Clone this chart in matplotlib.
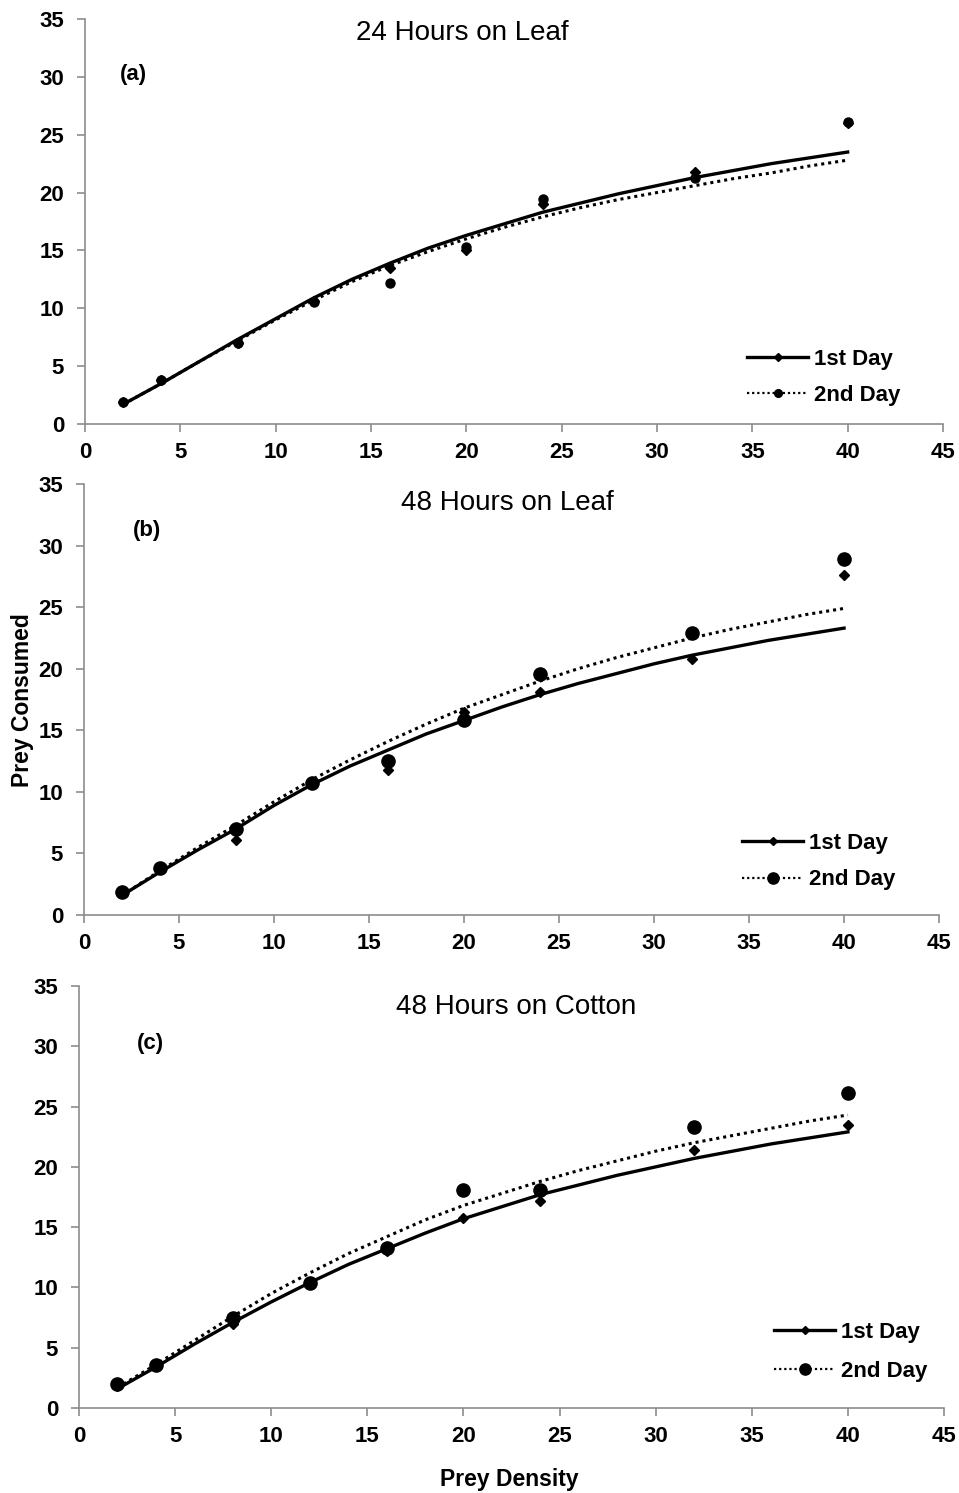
import matplotlib
matplotlib.use("Agg")
import matplotlib.pyplot as plt

plt.rcParams['font.family'] = ['Liberation Sans', 'DejaVu Sans']

# prey densities offered
density = [2, 4, 8, 12, 16, 20, 24, 32, 40]

# observed prey consumed
a_day1 = [1.9, 3.8, 7.0, 10.6, 13.5, 15.0, 19.0, 21.8, 26.0]
a_day2 = [1.9, 3.8, 7.0, 10.5, 12.2, 15.3, 19.4, 21.3, 26.1]
b_day1 = [1.9, 3.8, 6.1, 10.7, 11.8, 16.5, 18.1, 20.8, 27.6]
b_day2 = [1.9, 3.8, 7.0, 10.7, 12.5, 15.8, 19.6, 22.9, 28.9]
c_day1 = [1.8, 3.5, 7.0, 10.4, 13.0, 15.8, 17.2, 21.4, 23.5]
c_day2 = [2.0, 3.6, 7.5, 10.4, 13.3, 18.1, 18.1, 23.3, 26.1]

# fitted curves
fit_x = [2, 4, 6, 8, 10, 12, 14, 16, 18, 20, 22, 24, 26, 28, 30, 32, 34, 36, 38, 40]
a_fit1 = [1.7, 3.5, 5.4, 7.3, 9.1, 10.9, 12.5, 13.9, 15.2, 16.3, 17.3, 18.3, 19.1, 19.9, 20.6, 21.3, 21.9, 22.5, 23.0, 23.5]
a_fit2 = [1.7, 3.5, 5.4, 7.2, 9.0, 10.7, 12.3, 13.7, 14.9, 16.0, 17.0, 17.9, 18.7, 19.4, 20.0, 20.6, 21.2, 21.7, 22.3, 22.8]
b_fit1 = [1.6, 3.5, 5.3, 7.0, 8.9, 10.6, 12.1, 13.4, 14.7, 15.8, 16.9, 17.9, 18.8, 19.6, 20.4, 21.1, 21.7, 22.3, 22.8, 23.3]
b_fit2 = [1.6, 3.6, 5.5, 7.3, 9.2, 11.0, 12.6, 14.1, 15.5, 16.8, 17.9, 19.0, 20.0, 20.9, 21.7, 22.5, 23.2, 23.8, 24.4, 24.9]
c_fit1 = [1.6, 3.4, 5.3, 7.1, 8.8, 10.4, 11.9, 13.2, 14.5, 15.7, 16.7, 17.7, 18.5, 19.3, 20.0, 20.7, 21.3, 21.9, 22.4, 22.9]
c_fit2 = [1.7, 3.6, 5.6, 7.6, 9.5, 11.2, 12.8, 14.2, 15.6, 16.8, 17.8, 18.8, 19.7, 20.5, 21.3, 22.0, 22.6, 23.2, 23.8, 24.3]

titles = ["24 Hours on Leaf", "48 Hours on Leaf", "48 Hours on Cotton"]
tags = ["(a)", "(b)", "(c)"]

fig = plt.figure(figsize=(9.59, 14.93), dpi=100)

# axes boxes [left, bottom, width, height]
boxes = [[0.0886, 0.7160, 0.8947, 0.2713],
         [0.0876, 0.3871, 0.8916, 0.2887],
         [0.0824, 0.0569, 0.9020, 0.2827]]
title_pos = [(0.44, 0.965), (0.495, 0.956), (0.505, 0.950)]
tag_pos = [(0.056, 0.862), (0.074, 0.893), (0.083, 0.863)]
leg_pos = [(0.759, 0.115), (0.757, 0.124), (0.791, 0.133)]
leg_space = [0.7, 0.7, 0.82]
circle_size = [6.5, 9.5, 9.5]

panels = [(a_day1, a_day2, a_fit1, a_fit2),
          (b_day1, b_day2, b_fit1, b_fit2),
          (c_day1, c_day2, c_fit1, c_fit2)]

for i, (d1, d2, f1, f2) in enumerate(panels):
    ax = fig.add_axes(boxes[i])
    ax.plot(fit_x, f1, color="black", lw=2.4, solid_joinstyle="round")
    ax.plot(fit_x, f2, color="black", lw=2.2, linestyle=(0, (1, 1.3)))
    ax.plot(density, d1, "D", color="black", ms=5.5, ls="none")
    ax.plot(density, d2, "o", color="black", ms=circle_size[i], ls="none")

    # legend proxies
    h1, = ax.plot([], [], color="black", lw=2.4, marker="D", ms=4.5)
    h2, = ax.plot([], [], color="black", lw=1.6, linestyle=(0, (1, 1.3)),
                  marker="o", ms=circle_size[i] * 0.85)
    ax.legend([h1, h2], ["1st Day", "2nd Day"], loc="center left",
              bbox_to_anchor=leg_pos[i], frameon=False, borderpad=0,
              handlelength=2.75, handletextpad=0.25, labelspacing=leg_space[i],
              prop={"weight": "bold", "size": 16})

    ax.set_xlim(0, 45)
    ax.set_ylim(0, 35)
    ax.set_xticks(range(0, 46, 5))
    ax.set_yticks(range(0, 36, 5))
    for s in ["top", "right"]:
        ax.spines[s].set_visible(False)
    for s in ["left", "bottom"]:
        ax.spines[s].set_color("#8c8c8c")
        ax.spines[s].set_linewidth(1.2)
    ax.tick_params(colors="#8c8c8c", length=6, width=1.2, labelcolor="black",
                   labelsize=16)
    ax.tick_params(axis="x", pad=7)
    ax.tick_params(axis="y", pad=9)
    for lab in ax.get_xticklabels() + ax.get_yticklabels():
        lab.set_fontweight("bold")

    ax.text(title_pos[i][0], title_pos[i][1], titles[i], transform=ax.transAxes,
            ha="center", va="center", fontsize=20)
    ax.text(tag_pos[i][0], tag_pos[i][1], tags[i], transform=ax.transAxes,
            ha="center", va="center", fontsize=16, fontweight="bold")

fig.text(0.023, 0.531, "Prey Consumed", rotation=90, ha="center", va="center",
         fontsize=16.5, fontweight="bold")
fig.text(0.531, 0.009, "Prey Density", ha="center", va="center",
         fontsize=16.5, fontweight="bold")

fig.savefig("out.png", dpi=100)
